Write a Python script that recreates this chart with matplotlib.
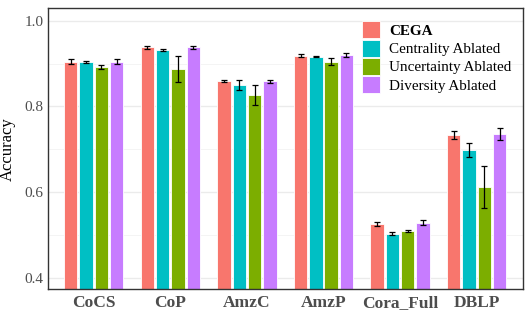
import matplotlib
matplotlib.use("Agg")
import matplotlib.pyplot as plt
import numpy as np
from matplotlib.patches import Patch

categories = ["CoCS", "CoP", "AmzC", "AmzP", "Cora_Full", "DBLP"]
series = ["CEGA", "Centrality Ablated", "Uncertainty Ablated", "Diversity Ablated"]
cega = [0.905, 0.938, 0.860, 0.919, 0.526, 0.733]
cega_err = [0.005, 0.004, 0.003, 0.003, 0.005, 0.009]
centrality = [0.904, 0.932, 0.850, 0.916, 0.503, 0.698]
centrality_err = [0.002, 0.002, 0.011, 0.001, 0.003, 0.016]
uncertainty = [0.892, 0.887, 0.826, 0.905, 0.509, 0.612]
uncertainty_err = [0.004, 0.031, 0.023, 0.009, 0.003, 0.050]
diversity = [0.905, 0.938, 0.859, 0.920, 0.529, 0.736]
diversity_err = [0.005, 0.004, 0.004, 0.004, 0.005, 0.014]
yticks = [0.4, 0.6, 0.8, 1.0]

values = [cega, centrality, uncertainty, diversity]
errors = [cega_err, centrality_err, uncertainty_err, diversity_err]
colors = ["#F8766D", "#00BFC4", "#7CAE00", "#C77CFF"]

plt.rcParams['font.family'] = ['Liberation Serif', 'DejaVu Serif']

fig = plt.figure(figsize=(5.32, 3.15), dpi=100)
ax = fig.add_axes([0.0897, 0.0816, 0.8928, 0.893])

x = np.arange(len(categories))
offsets = [-0.3, -0.1, 0.1, 0.3]
for v, e, c, o in zip(values, errors, colors, offsets):
    ax.bar(x + o, v, width=0.175, color=c, edgecolor="white", linewidth=0.6, zorder=2)
    ax.errorbar(x + o, v, yerr=e, fmt="none", ecolor="black", elinewidth=0.9,
                capsize=2.3, capthick=0.9, zorder=3)

ax.set_ylim(0.373, 1.03)
ax.set_xlim(-0.6, len(categories) - 0.4)
ax.set_yticks(yticks)
ax.set_yticks([0.5, 0.7, 0.9], minor=True)
ax.set_yticklabels([f"{t:.1f}" for t in yticks])
ax.tick_params(axis='y', which='both', length=0, labelsize=11, labelcolor="#4D4D4D", pad=3)
ax.set_xticks(x)
ax.set_xticklabels(categories, fontweight="bold", fontsize=12.5, color="#4D4D4D")
ax.tick_params(axis='x', length=0, pad=4)
ax.grid(axis='y', which='major', color="#EBEBEB", linewidth=1.0, zorder=0)
ax.grid(axis='y', which='minor', color="#F2F2F2", linewidth=0.6, zorder=0)
ax.set_axisbelow(True)
for s in ax.spines.values():
    s.set_color("#333333")
    s.set_linewidth(1.0)
ax.set_ylabel("Accuracy", fontsize=12, labelpad=6)

handles = [Patch(facecolor=c, edgecolor="white", linewidth=0.6) for c in colors]
leg = ax.legend(handles, series, loc="upper left", bbox_to_anchor=(0.64, 0.99),
                frameon=False, fontsize=10.9, handlelength=1.15, handleheight=1.35,
                handletextpad=0.6, labelspacing=0.08, borderaxespad=0.3,
                borderpad=0.4)
leg.get_texts()[0].set_fontweight("bold")

fig.savefig("out.png", dpi=100)
